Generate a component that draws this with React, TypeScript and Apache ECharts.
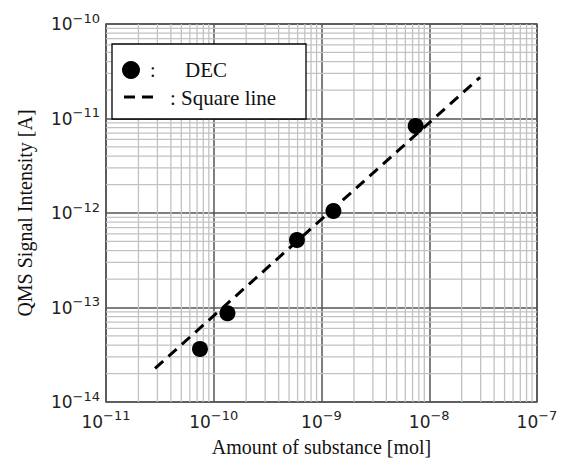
import React, { useEffect, useRef } from "react";
import * as echarts from "echarts";

// Data
const decX: number[] = [7.45e-11, 1.34e-10, 5.92e-10, 1.29e-9, 7.48e-9];
const decY: number[] = [3.64e-14, 8.69e-14, 5.18e-13, 1.05e-12, 8.34e-12];
const fitX: number[] = [2.85e-11, 2.96e-8];
const fitY: number[] = [2.27e-14, 2.73e-11];

const xMin = 1e-11;
const xMax = 1e-7;
const yMin = 1e-14;
const yMax = 1e-10;
const xDecades: number[] = [-11, -10, -9, -8];
const yDecades: number[] = [-14, -13, -12, -11];
const minorMultipliers: number[] = [2, 3, 4, 5, 6, 7, 8, 9];

const legendLabels = { dec: "DEC", line: ": Square line" };
const xTitle = "Amount of substance [mol]";
const yTitle = "QMS Signal Intensity [A]";

const minorX: number[] = [];
xDecades.forEach((e) => minorMultipliers.forEach((m) => minorX.push(m * Math.pow(10, e))));
const minorY: number[] = [];
yDecades.forEach((e) => minorMultipliers.forEach((m) => minorY.push(m * Math.pow(10, e))));

const tickFmt = (v: number) => {
  const e = Math.round(Math.log10(v));
  return `{b|10}{s|\u2212${Math.abs(e)}}`;
};

const richLabel = {
  b: { fontFamily: "DejaVu Sans", fontSize: 17, color: "#222" },
  s: { fontFamily: "DejaVu Sans", fontSize: 13, color: "#222", padding: [0, 0, 12, 0] },
};

export default function App() {
  const ref = useRef<HTMLDivElement>(null);
  useEffect(() => {
    if (!ref.current) return;
    const chart = echarts.init(ref.current, undefined, { renderer: "svg" });
    const serif = "'Liberation Serif', 'Times New Roman', serif";
    chart.setOption({
      animation: false,
      backgroundColor: "#fff",
      grid: {
        left: 106,
        right: 32,
        top: 24,
        bottom: 59,
        containLabel: false,
        outerBoundsMode: "none",
        show: true,
        borderColor: "#555",
        borderWidth: 1.6,
        backgroundColor: "transparent",
      },
      xAxis: {
        type: "log",
        logBase: 10,
        min: xMin,
        max: xMax,
        splitNumber: 4,
        name: xTitle,
        nameLocation: "middle",
        nameGap: 35,
        nameTextStyle: { fontFamily: serif, fontSize: 20, color: "#111" },
        axisLine: { show: false },
        axisTick: { show: false },
        axisLabel: { formatter: tickFmt, rich: richLabel, margin: 7 },
        splitLine: { show: true, lineStyle: { color: "#555", width: 1.5 } },
      },
      yAxis: {
        type: "log",
        logBase: 10,
        min: yMin,
        max: yMax,
        splitNumber: 4,
        name: yTitle,
        nameLocation: "middle",
        nameGap: 71,
        nameTextStyle: { fontFamily: serif, fontSize: 20, color: "#111" },
        axisLine: { show: false },
        axisTick: { show: false },
        axisLabel: { formatter: tickFmt, rich: richLabel, margin: 6 },
        splitLine: { show: true, lineStyle: { color: "#555", width: 1.5 } },
      },
      series: [
        {
          type: "custom",
          silent: true,
          z: 1,
          data: minorX.map((v) => [v, yMin]),
          renderItem: (params: any, api: any) => {
            const v = api.value(0);
            const p1 = api.coord([v, yMin]);
            const p2 = api.coord([v, yMax]);
            return {
              type: "line",
              shape: { x1: p1[0], y1: p1[1], x2: p2[0], y2: p2[1] },
              style: { stroke: "#c2c2c2", lineWidth: 1.3 },
            };
          },
        },
        {
          type: "custom",
          silent: true,
          z: 1,
          data: minorY.map((v) => [xMin, v]),
          renderItem: (params: any, api: any) => {
            const v = api.value(1);
            const p1 = api.coord([xMin, v]);
            const p2 = api.coord([xMax, v]);
            return {
              type: "line",
              shape: { x1: p1[0], y1: p1[1], x2: p2[0], y2: p2[1] },
              style: { stroke: "#c2c2c2", lineWidth: 1.3 },
            };
          },
        },
        {
          type: "line",
          z: 3,
          symbol: "none",
          silent: true,
          data: fitX.map((x, i) => [x, fitY[i]]),
          lineStyle: { color: "#000", width: 3, type: [11, 7] },
        },
        {
          type: "scatter",
          z: 4,
          symbol: "circle",
          symbolSize: 16,
          itemStyle: { color: "#000", opacity: 1 },
          data: decX.map((x, i) => [x, decY[i]]),
        },
      ],
      graphic: [
        {
          type: "group",
          z: 100,
          children: [
            {
              type: "rect",
              z: 100,
              shape: { x: 112, y: 44, width: 194, height: 75 },
              style: { fill: "#fff", stroke: "#000", lineWidth: 1.3 },
            },
            {
              type: "circle",
              z: 101,
              shape: { cx: 131, cy: 70, r: 9 },
              style: { fill: "#000" },
            },
            {
              type: "text",
              z: 101,
              x: 150,
              y: 70,
              style: { text: ":", font: `20px ${serif}`, fill: "#111", verticalAlign: "middle" },
            },
            {
              type: "text",
              z: 101,
              x: 185,
              y: 70,
              style: { text: legendLabels.dec, font: `21px ${serif}`, fill: "#111", verticalAlign: "middle" },
            },
            {
              type: "line",
              z: 101,
              shape: { x1: 124, y1: 97, x2: 154, y2: 97 },
              style: { stroke: "#000", lineWidth: 3, lineDash: [11, 7] },
            },
            {
              type: "text",
              z: 101,
              x: 170,
              y: 98,
              style: { text: legendLabels.line, font: `21px ${serif}`, fill: "#111", verticalAlign: "middle" },
            },
          ],
        },
      ],
    });
    return () => chart.dispose();
  }, []);
  return <div ref={ref} style={{ width: 569, height: 461, position: "absolute", left: 0, top: 0 }} />;
}
